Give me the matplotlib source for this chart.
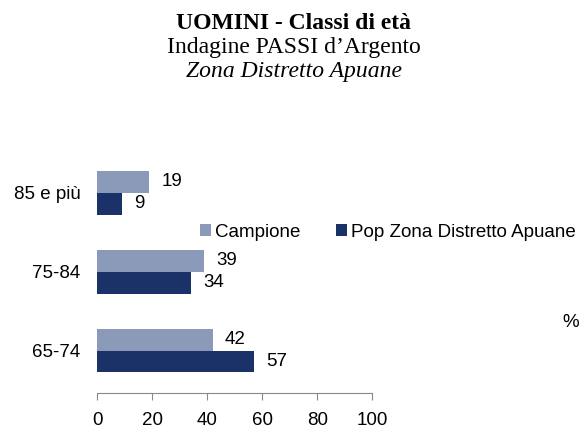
import matplotlib
matplotlib.use('Agg')
import matplotlib.pyplot as plt
import numpy as np

categories = ['65-74', '75-84', '85 e più']
campione = [42, 39, 19]
pop_zona = [57, 34, 9]
series_names = ['Campione', 'Pop Zona Distretto Apuane']
xticks = [0, 20, 40, 60, 80, 100]

light = '#8C9AB9'
dark = '#1B3268'

plt.rcParams['font.family'] = ['Liberation Sans', 'DejaVu Sans']
fs = 13.5

fig = plt.figure(figsize=(5.88, 4.3), dpi=100)
ax = fig.add_axes([0.165, 0.093, 0.468, 0.551])

y = np.arange(len(categories))
h = 0.278
b1 = ax.barh(y + h / 2, campione, height=h, color=light, label=series_names[0])
b2 = ax.barh(y - h / 2, pop_zona, height=h, color=dark, label=series_names[1])

for bars, vals in ((b1, campione), (b2, pop_zona)):
    for bar, v in zip(bars, vals):
        ax.text(v + 4.5, bar.get_y() + bar.get_height() / 2, str(v),
                va='center', ha='left', fontsize=fs)

# spine position first: it resets the tick settings
for s in ['top', 'right', 'left']:
    ax.spines[s].set_visible(False)
ax.spines['bottom'].set_color('#888888')
ax.spines['bottom'].set_position(('outward', 2))

ax.set_xlim(0, 100)
ax.set_ylim(-0.5, 2.5)
ax.set_xticks(xticks)
ax.set_xticklabels([str(t) for t in xticks], fontsize=fs)
ax.set_yticks(y)
ax.set_yticklabels(categories, fontsize=fs)
ax.tick_params(axis='y', length=0, pad=12)
ax.tick_params(axis='x', direction='out', length=5, color='#888888', pad=9)

fig.legend(handles=[b1, b2], loc='center left', bbox_to_anchor=(0.311, 0.46),
           ncol=2, frameon=False, fontsize=fs, handlelength=0.6,
           handleheight=0.6, handletextpad=0.2, columnspacing=1.9)

fig.text(0.97, 0.25, '%', ha='center', va='center', fontsize=fs)

fig.text(0.5, 0.946, 'UOMINI - Classi di età', ha='center', va='center',
         fontsize=17, fontweight='bold', family='Liberation Serif')
fig.text(0.5, 0.889, 'Indagine PASSI d\u2019Argento', ha='center', va='center',
         fontsize=17, family='Liberation Serif')
fig.text(0.5, 0.834, 'Zona Distretto Apuane', ha='center', va='center',
         fontsize=17, style='italic', family='Liberation Serif')

fig.savefig('out.png', dpi=100)
